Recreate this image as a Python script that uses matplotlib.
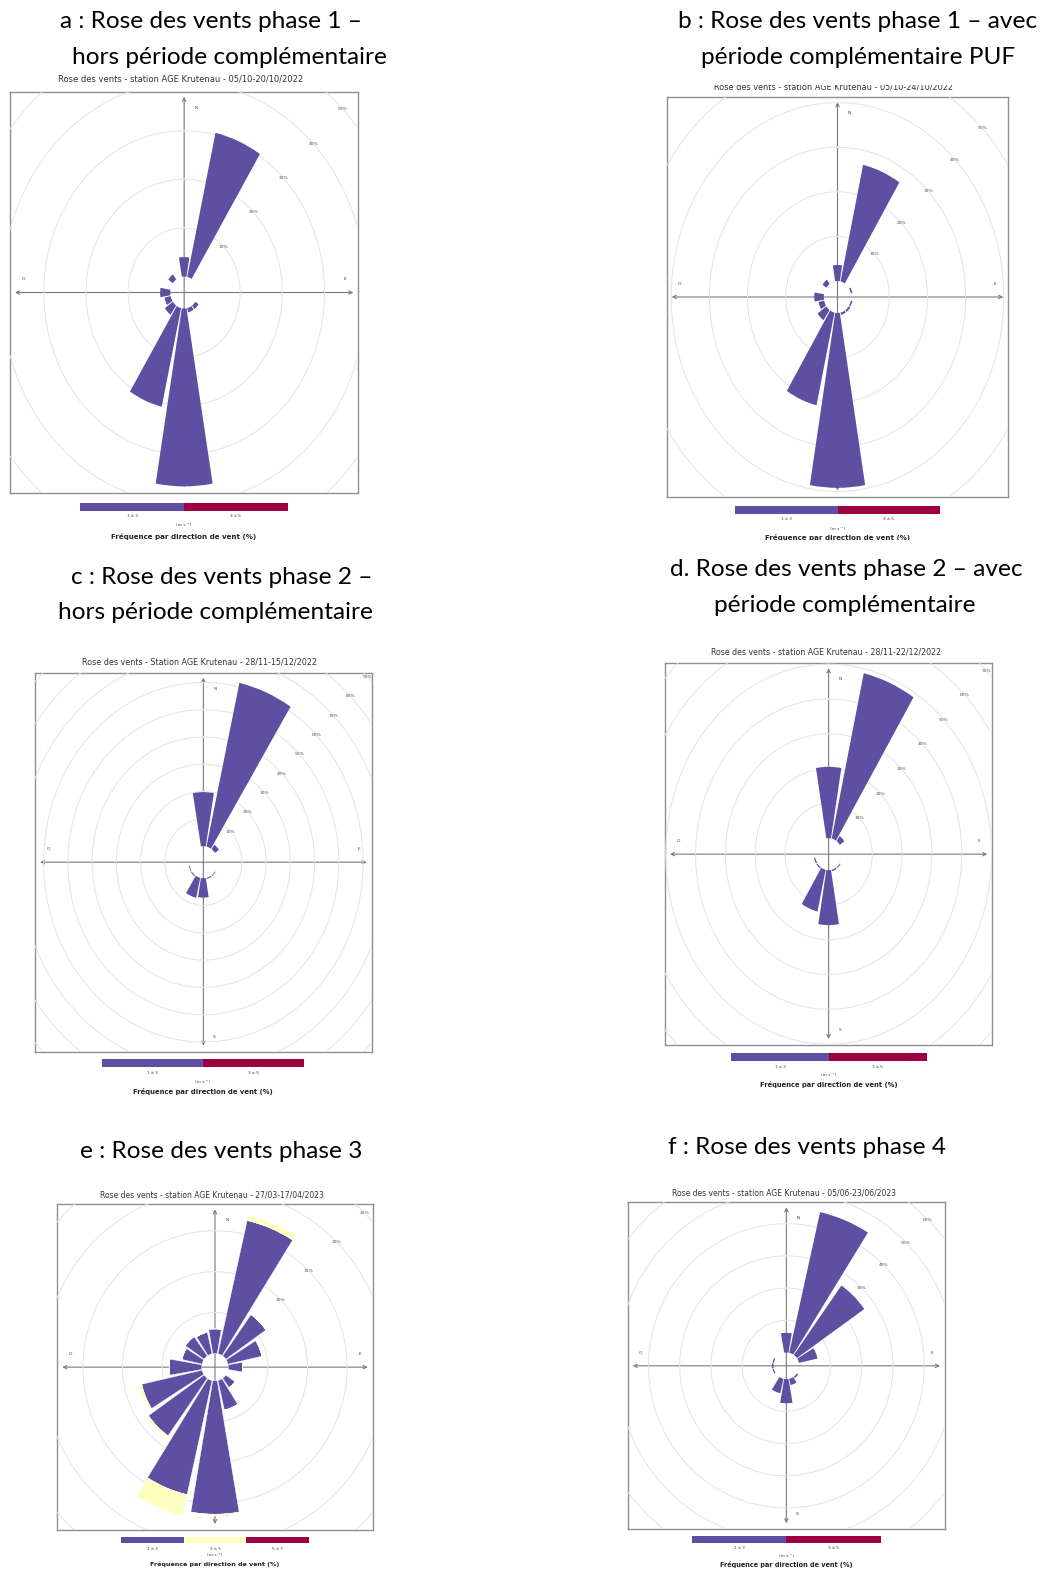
import numpy as np
import matplotlib.pyplot as plt
from matplotlib.patches import Rectangle

W, H = 1041, 1571
fig = plt.figure(figsize=(W / 100, H / 100), dpi=100)


def fx(px):
    return px / W


def fy(py):
    return 1 - py / H


# ---- data -------------------------------------------------------------
sectors = np.arange(16) * 22.5   # N, NNE, ... NNW

# frequency (%) per direction, class 1 a 3 m/s
a_13 = [4.0, 30.4, 0, 0, 0, 0, 0.9, 0.9, 36.6, 20.8, 2.3, 1.5, 2.4, 0, 1.3, 0]
b_13 = [3.6, 26.8, 0, 0.4, 0, 0.4, 0.5, 0.5, 39.2, 21.3, 2.8, 1.5, 2.5, 0, 1.2, 0]
c_13 = [19.8, 61.5, 2.0, 0, 0, 0, 0.3, 0.4, 7.1, 7.5, 0.4, 0.3, 0, 0, 0, 0]
d_13 = [20.5, 48.7, 1.8, 0, 0, 0, 0.3, 0.4, 15.8, 12.3, 0.4, 0.4, 0, 0, 0, 0]
e_13 = [3.0, 16.7, 6.2, 4.4, 1.8, 0, 1.4, 3.7, 16.3, 14.3, 8.6, 7.8, 4.1, 2.6, 2.9, 2.7]
e_35 = [0, 0.7, 0, 0, 0, 0, 0, 0, 0.15, 2.7, 0.3, 0.4, 0, 0, 0, 0]
e_57 = [0] * 16
f_13 = [6.1, 44.8, 26.4, 6.1, 0, 0, 0.5, 2.0, 7.5, 4.6, 0, 0.4, 0.5, 0.4, 0, 0]

classes_2 = ['1 à 3', '3 à 5']
classes_3 = ['1 à 3', '3 à 5', '5 à 7']
colors_2 = ['#5E4FA2', '#9E0142']
colors_3 = ['#5E4FA2', '#FFFFBF', '#9E0142']

ring_labels_a = [10, 20, 30, 40, 50]
ring_labels_b = [10, 20, 30, 40, 50]
ring_labels_c = [10, 20, 30, 40, 50, 60, 70, 80, 90]
ring_labels_d = [10, 20, 30, 40, 50, 60, 70]
ring_labels_e = [5, 10, 15, 20, 25]
ring_labels_f = [10, 20, 30, 40, 50, 60]

headings = [
    ['a : Rose des vents phase 1 –', 'hors période complémentaire'],
    ['b : Rose des vents phase 1 – avec', 'période complémentaire PUF'],
    ['c : Rose des vents phase 2 –', 'hors période complémentaire'],
    ['d. Rose des vents phase 2 – avec', 'période complémentaire'],
    ['e : Rose des vents phase 3'],
    ['f : Rose des vents phase 4'],
]
titles = [
    'Rose des vents - station AGE Krutenau - 05/10-20/10/2022',
    'Rose des vents - station AGE Krutenau - 05/10-24/10/2022',
    'Rose des vents - Station AGE Krutenau - 28/11-15/12/2022',
    'Rose des vents - station AGE Krutenau - 28/11-22/12/2022',
    'Rose des vents - station AGE Krutenau - 27/03-17/04/2023',
    'Rose des vents - station AGE Krutenau - 05/06-23/06/2023',
]
panel_data = [
    ([a_13], classes_2, colors_2, ring_labels_a, 10),
    ([b_13], classes_2, colors_2, ring_labels_b, 10),
    ([c_13], classes_2, colors_2, ring_labels_c, 10),
    ([d_13], classes_2, colors_2, ring_labels_d, 10),
    ([e_13, e_35, e_57], classes_3, colors_3, ring_labels_e, 5),
    ([f_13], classes_2, colors_2, ring_labels_f, 10),
]

# ---- layout (pixels of the 1041x1571 image) ---------------------------
layouts = [
    dict(head=[(211, 21), (230, 57)], title=(181, 79, 6.0), box=(10, 91.7, 358.3, 493.3),
         slope=4.86, hole=16, leg=(80, 288, 502.5, 510.5), leg_y=(516, 525.5, 536.5), bold=5.15),
    dict(head=[(858, 21), (858, 58)], title=(834, 86.5, 5.9), box=(666.7, 97.3, 1008.3, 496.7),
         slope=4.46, hole=16, leg=(735, 940, 506, 514), leg_y=(519.5, 528.5, 537.5), bold=5.15),
    dict(head=[(222, 578), (215, 613)], title=(199.5, 661.7, 5.8), box=(35, 672.7, 371.7, 1051.7),
         slope=2.73, hole=16, leg=(102, 304, 1059, 1067.3), leg_y=(1072.7, 1081.7, 1091.5), bold=4.95),
    dict(head=[(846, 570), (845, 605)], title=(826, 651.7, 5.7), box=(665, 663.3, 992.3, 1045),
         slope=3.48, hole=16, leg=(731, 927, 1052.7, 1060.7), leg_y=(1066.7, 1075, 1085), bold=4.85),
    dict(head=[(221, 1152)], title=(211.7, 1195, 5.5), box=(57.3, 1204.3, 372.7, 1530),
         slope=8.18, hole=13.7, leg=(120.7, 309.3, 1536.7, 1543.3), leg_y=(1548.5, 1555, 1564.5), bold=4.6),
    dict(head=[(807, 1148)], title=(783.5, 1193, 5.5), box=(627.7, 1202.3, 945, 1529.3),
         slope=3.22, hole=13.3, leg=(691.7, 881, 1536, 1542.7), leg_y=(1548.3, 1556, 1565), bold=4.7),
]

# clipping of the partly hidden texts of panel b
clip_rects = {1: (84.5, 539.5)}

for i, ((series, classes, colors, ring_labels, ring_step), lay) in enumerate(zip(panel_data, layouts)):
    # heading
    for (hx, hy), line in zip(lay['head'], headings[i]):
        fig.text(fx(hx), fy(hy), line, ha='center', va='center', fontsize=17.6,
                 family='Lato', color='black')

    x0, y0, x1, y1 = lay['box']
    bw, bh = x1 - x0, y1 - y0
    cx, cy = (x0 + x1) / 2, (y0 + y1) / 2

    tx, ty, tfs = lay['title']
    t = fig.text(fx(tx), fy(ty), titles[i], ha='center', va='center', fontsize=tfs,
                 color='#333333', family='DejaVu Sans')
    if i in clip_rects:
        top, _ = clip_rects[i]
        t.set_clip_path(Rectangle((0, 0), 1, fy(top), transform=fig.transFigure))

    # frame box with axis arrows
    bax = fig.add_axes([fx(x0), fy(y1), bw / W, bh / H])
    bax.set_xlim(0, 1)
    bax.set_ylim(0, 1)
    bax.set_xticks([])
    bax.set_yticks([])
    for sp in bax.spines.values():
        sp.set_color('#8f8f8f')
        sp.set_linewidth(1.0)
    arr = dict(arrowstyle='<->', color='#7a7a7a', lw=0.8, shrinkA=0, shrinkB=0, mutation_scale=6)
    bax.annotate('', xy=(0.5, 1 - 5 / bh), xytext=(0.5, 6 / bh), arrowprops=arr)
    bax.annotate('', xy=(1 - 5 / bw, 0.5), xytext=(5 / bw, 0.5), arrowprops=arr)
    lab = dict(fontsize=3.2, color='#444444', ha='center', va='center')
    bax.text(0.5 + 12 / bw, 1 - 16 / bh, 'N', **lab)
    bax.text(1 - 13 / bw, 0.5 + 13 / bh, 'E', **lab)
    bax.text(13 / bw, 0.5 + 13 / bh, 'O', **lab)
    bax.text(0.5 + 11 / bw, 15 / bh, 'S', **lab)

    # polar rose (stretched like the box), clipped to the box
    sc = 1.5
    pax = fig.add_axes([fx(cx - sc * bw / 2), fy(cy + sc * bh / 2), sc * bw / W, sc * bh / H],
                       projection='polar')
    pax.set_aspect('auto')
    pax.set_theta_zero_location('N')
    pax.set_theta_direction(-1)
    pax.patch.set_visible(False)
    for sp in pax.spines.values():
        sp.set_color('none')
        sp.set_linewidth(0)

    slope, hole = lay['slope'], lay['hole']
    rmax = (sc * bh / 2 - hole) / slope

    theta = np.linspace(0, 2 * np.pi, 361)
    for lvl in np.arange(ring_step, rmax, ring_step):
        pax.plot(theta, np.full_like(theta, lvl), color='#e3e3e3', lw=0.7, zorder=1)

    bottom = np.zeros(len(sectors))
    edge_lw = 0.3 if len(series) > 1 else 0
    for vals, col in zip(series, colors):
        pax.bar(np.deg2rad(sectors), vals, width=np.deg2rad(19.5), bottom=bottom,
                color=col, edgecolor='white', linewidth=edge_lw, zorder=3)
        bottom = bottom + np.array(vals)

    for lvl in ring_labels:
        pax.text(np.deg2rad(45), lvl, f'{lvl}%', ha='center', va='center', fontsize=3.2,
                 color='#555555', zorder=5, clip_on=True)

    pax.set_xticks([])
    pax.set_yticks([])
    pax.grid(False)
    pax.set_rorigin(-hole / slope)
    pax.set_rlim(0, rmax)

    for art in pax.patches + pax.lines + pax.texts:
        art.set_clip_on(True)
        art.set_clip_path(bax.patch)

    # legend bar
    lx0, lx1, ly0, ly1 = lay['leg']
    lax = fig.add_axes([fx(lx0), fy(ly1), (lx1 - lx0) / W, (ly1 - ly0) / H])
    n = len(classes)
    lax.barh(0, [1] * n, left=np.arange(n), height=1, color=colors)
    lax.set_xlim(0, n)
    lax.set_ylim(-0.5, 0.5)
    lax.axis('off')
    seg = (lx1 - lx0) / n
    y_lab, y_unit, y_bold = lay['leg_y']
    for j, c in enumerate(classes):
        fig.text(fx(lx0 + seg * (j + 0.5)), fy(y_lab), c, ha='center', va='center',
                 fontsize=3.2, color='#444444')
    fig.text(fx((lx0 + lx1) / 2), fy(y_unit), '(m s⁻¹)', ha='center', va='center',
             fontsize=3.2, color='#444444')
    bt = fig.text(fx((lx0 + lx1) / 2), fy(y_bold), 'Fréquence par direction de vent (%)',
                  ha='center', va='center', fontsize=lay['bold'], fontweight='bold',
                  color='#222222')
    if i in clip_rects:
        _, bottom_px = clip_rects[i]
        bt.set_clip_path(Rectangle((0, fy(bottom_px)), 1, 1, transform=fig.transFigure))

fig.savefig('out.png', dpi=100, facecolor='white')
